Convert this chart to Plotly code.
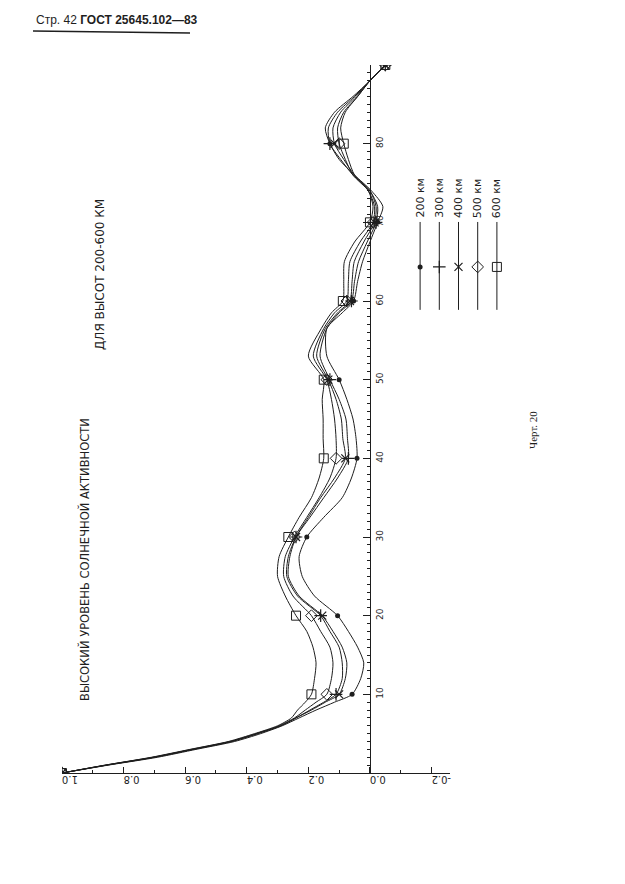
import plotly.graph_objects as go

# ---------------- data ----------------
lags = [0, 1, 2, 3, 4, 5, 6, 7, 8, 9, 10,
        12, 14, 16, 18, 20,
        22.5, 25, 27.5, 30, 32.5, 35, 37.5, 40, 42.5, 45, 47.5, 50,
        53, 56.5, 58.5, 60,
        62.5, 65, 67.5, 70,
        72, 74, 76, 78, 80, 82, 84, 86, 88, 90]

r_200 = [1.0, 0.85, 0.69, 0.565, 0.44, 0.355, 0.285, 0.23, 0.175, 0.115, 0.058,
         0.03, 0.02, 0.04, 0.07, 0.105,
         0.18, 0.22, 0.23, 0.205, 0.15, 0.09, 0.06, 0.042, 0.045, 0.055, 0.075, 0.10,
         0.14, 0.14, 0.09, 0.053,
         0.04, 0.024, 0.0, -0.025,
         -0.042, -0.005, 0.05, 0.10, 0.13, 0.145, 0.115, 0.055, 0.0, -0.05]

r_300 = [1.0, 0.855, 0.70, 0.575, 0.45, 0.365, 0.29, 0.24, 0.195, 0.15, 0.11,
         0.09, 0.09, 0.10, 0.13, 0.16,
         0.235, 0.27, 0.265, 0.24, 0.195, 0.15, 0.105, 0.07, 0.073, 0.078, 0.10, 0.13,
         0.162, 0.14, 0.10, 0.06,
         0.05, 0.037, 0.009, -0.02,
         -0.025, 0.0, 0.055, 0.095, 0.13, 0.135, 0.105, 0.05, 0.0, -0.05]

r_400 = [1.0, 0.855, 0.70, 0.575, 0.45, 0.365, 0.29, 0.24, 0.19, 0.145, 0.10,
         0.08, 0.075, 0.09, 0.12, 0.155,
         0.23, 0.265, 0.26, 0.24, 0.20, 0.16, 0.115, 0.08, 0.088, 0.093, 0.11, 0.135,
         0.173, 0.145, 0.105, 0.065,
         0.058, 0.051, 0.02, -0.015,
         -0.02, 0.0, 0.05, 0.085, 0.115, 0.12, 0.095, 0.045, 0.0, -0.05]

r_500 = [1.0, 0.86, 0.705, 0.58, 0.455, 0.37, 0.295, 0.245, 0.21, 0.175, 0.14,
         0.125, 0.12, 0.13, 0.16, 0.19,
         0.25, 0.28, 0.275, 0.245, 0.205, 0.165, 0.13, 0.11, 0.11, 0.115, 0.125, 0.14,
         0.184, 0.15, 0.115, 0.075,
         0.07, 0.065, 0.032, -0.01,
         -0.015, 0.005, 0.055, 0.08, 0.10, 0.105, 0.085, 0.04, 0.0, -0.05]

r_600 = [1.0, 0.86, 0.71, 0.585, 0.46, 0.375, 0.30, 0.255, 0.235, 0.21, 0.19,
         0.18, 0.175, 0.185, 0.205, 0.24,
         0.275, 0.30, 0.295, 0.265, 0.23, 0.19, 0.165, 0.15, 0.152, 0.152, 0.155, 0.15,
         0.20, 0.158, 0.125, 0.088,
         0.085, 0.083, 0.05, 0.0,
         -0.01, 0.005, 0.05, 0.07, 0.085, 0.095, 0.08, 0.04, 0.0, -0.05]

series_names = ["200 км", "300 км", "400 км", "500 км", "600 км"]
series_values = [r_200, r_300, r_400, r_500, r_600]

value_ticks = [1.0, 0.8, 0.6, 0.4, 0.2, 0.0, -0.2]
value_tick_text = ["1.0", "0.8", "0.6", "0.4", "0.2", "0.0", "-0.2"]
lag_ticks = [10, 20, 30, 40, 50, 60, 70, 80]
lag_tick_text = ["10", "20", "30", "40", "50", "60", "70", "80"]

header_text = "Стр. 42 <b>ГОСТ 25645.102—83</b>"
title_1 = "ВЫСОКИЙ УРОВЕНЬ СОЛНЕЧНОЙ АКТИВНОСТИ"
title_2 = "ДЛЯ ВЫСОТ 200-600 КМ"
figure_label = "Черт. 20"

# ---------------- styles / layout ----------------
# page has an 8 px body margin, so the figure is 8 px smaller on each side
W, H = 617, 876
ML, MR, MT, MB = 54, 10, 57, 111
PW, PH = W - ML - MR, H - MT - MB
INK = "#1e1e1e"
FONT = "DejaVu Sans"
NARROW = "Liberation Sans Narrow, Liberation Sans, sans-serif"


def px_x(page_px):
    """page pixel -> paper fraction (x)"""
    return (page_px - 8 - ML) / PW


def px_y(page_py):
    """page pixel -> paper fraction (y)"""
    return (H - MB - (page_py - 8)) / PH


marker_styles = [
    dict(symbol="circle", size=5, color=INK),
    dict(symbol="cross-thin-open", size=9, color=INK, line=dict(width=1.2, color=INK)),
    dict(symbol="x-thin-open", size=8, color=INK, line=dict(width=1.2, color=INK)),
    dict(symbol="diamond-open", size=9, color=INK, line=dict(width=1, color=INK)),
    dict(symbol="square-open", size=9, color=INK, line=dict(width=1, color=INK)),
]

x_range = [1.0, -0.26]
main_x_domain = [0, px_x(450)]
lag_axis_pos = main_x_domain[1] * (x_range[0] - 0.0) / (x_range[0] - x_range[1])

fig = go.Figure()

mark_idx = [i for i, L in enumerate(lags) if L % 10 == 0]
for name, vals, ms in zip(series_names, series_values, marker_styles):
    fig.add_trace(go.Scatter(
        x=vals, y=lags, mode="lines", name=name,
        line=dict(color=INK, width=1, shape="spline", smoothing=0.7),
        showlegend=False, hoverinfo="skip"))
    fig.add_trace(go.Scatter(
        x=[vals[i] for i in mark_idx], y=[lags[i] for i in mark_idx],
        mode="markers", marker=ms, showlegend=False, hoverinfo="skip"))

# ---------------- legend drawn as vertical samples ----------------
for i, (name, ms) in enumerate(zip(series_names, marker_styles)):
    fig.add_trace(go.Scatter(
        x=[i + 0.5, i + 0.5], y=[0.07, 0.676], mode="lines",
        line=dict(color=INK, width=1), xaxis="x2", yaxis="y2",
        showlegend=False, hoverinfo="skip"))
    fig.add_trace(go.Scatter(
        x=[i + 0.5], y=[0.366], mode="markers", marker=ms,
        xaxis="x2", yaxis="y2", showlegend=False, hoverinfo="skip"))
    fig.add_annotation(x=i + 0.5, y=0.69, xref="x2", yref="y2",
                       text=name, textangle=-90, showarrow=False,
                       xanchor="center", yanchor="bottom",
                       font=dict(family=FONT, size=11, color=INK))

fig.update_layout(
    width=W, height=H,
    margin=dict(l=ML, r=MR, t=MT, b=MB),
    paper_bgcolor="white", plot_bgcolor="rgba(0,0,0,0)",
    showlegend=False,
    xaxis=dict(
        domain=main_x_domain, range=x_range, showgrid=False, zeroline=False,
        showline=True, linecolor=INK, linewidth=1,
        tickvals=value_ticks, ticktext=value_tick_text, tickangle=180,
        ticks="inside", ticklen=6, tickcolor=INK, tickwidth=1,
        minor=dict(dtick=0.1, tick0=0, ticks="inside", ticklen=3, tickcolor=INK),
        tickfont=dict(family=FONT, size=10, color=INK), ticklabelstandoff=0,
        anchor="y", fixedrange=True),
    yaxis=dict(
        range=[0, 90], showgrid=False, zeroline=False,
        anchor="free", position=lag_axis_pos, side="right",
        showline=True, linecolor=INK, linewidth=1,
        tickvals=lag_ticks, ticktext=lag_tick_text, tickangle=-90,
        ticks="inside", ticklen=7, tickcolor=INK, tickwidth=1,
        minor=dict(dtick=1, tick0=0, ticks="inside", ticklen=3, tickcolor=INK),
        tickfont=dict(family=FONT, size=9, color=INK), ticklabelstandoff=1,
        fixedrange=True),
    xaxis2=dict(domain=[px_x(410.5), px_x(506.5)], range=[0, 5], visible=False,
                anchor="y2", fixedrange=True),
    yaxis2=dict(domain=[px_y(320), px_y(175)], range=[0, 1], visible=False,
                anchor="x2", fixedrange=True),
)

# titles and page text
fig.add_annotation(x=px_x(84), y=px_y(560), xref="paper", yref="paper",
                   text=title_1, textangle=-90, showarrow=False,
                   xanchor="center", yanchor="middle",
                   font=dict(family=FONT, size=11.5, color=INK))
fig.add_annotation(x=px_x(100), y=px_y(275), xref="paper", yref="paper",
                   text=title_2, textangle=-90, showarrow=False,
                   xanchor="center", yanchor="middle",
                   font=dict(family=FONT, size=12, color=INK))
fig.add_annotation(x=px_x(533), y=px_y(430), xref="paper", yref="paper",
                   text=figure_label, textangle=-90, showarrow=False,
                   xanchor="center", yanchor="middle",
                   font=dict(family="Liberation Serif", size=11, color=INK))
fig.add_annotation(x=px_x(34), y=px_y(20), xref="paper", yref="paper",
                   text=header_text, showarrow=False,
                   xanchor="left", yanchor="middle",
                   font=dict(family=NARROW, size=12, color=INK))
fig.add_shape(type="line", xref="paper", yref="paper",
              x0=px_x(33), y0=px_y(31), x1=px_x(190), y1=px_y(33),
              line=dict(color=INK, width=1.5))

fig.write_html("out.html")
